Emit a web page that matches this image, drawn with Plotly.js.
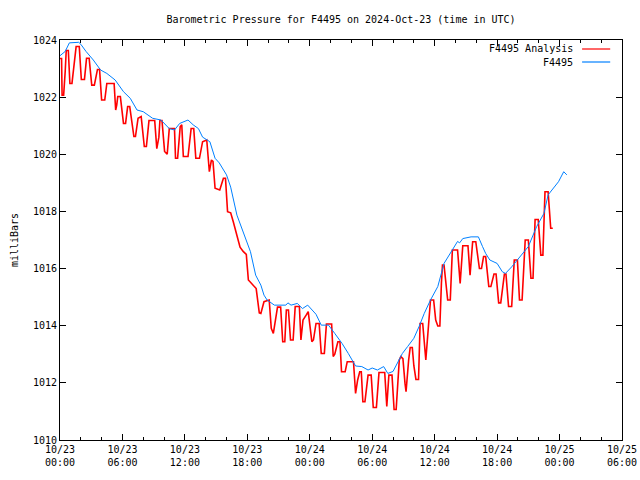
<!DOCTYPE html>
<html>
<head>
<meta charset="utf-8">
<script src="https://cdn.plot.ly/plotly-3.0.1.min.js"></script>
<style>html,body{margin:0;padding:0;background:#fff;}#chart{width:640px;height:480px;}</style>
</head>
<body>
<div id="chart"></div>
<script>
// Hours since 2024-10-23 00:00 UTC and pressure (mb)
const analysisHours = [0,0.15,0.2,0.35,0.5,0.6,0.8,0.95,1.15,1.4,1.55,1.85,2.05,2.35,2.55,2.8,3.05,3.3,3.6,3.8,4.0,4.3,4.5,5.2,5.35,5.45,5.55,5.8,6.1,6.3,6.5,6.7,7.1,7.25,7.5,7.8,8.1,8.3,8.55,9.1,9.3,9.5,9.6,9.8,10.05,10.3,10.5,11.0,11.1,11.3,11.55,11.7,11.85,12.3,12.6,12.85,13.05,13.4,13.7,14.1,14.35,14.55,14.7,14.9,15.35,15.7,15.9,16.1,16.4,16.65,17.0,17.3,17.6,17.9,18.1,18.5,18.85,19.15,19.3,19.6,20.1,20.3,20.5,20.9,21.2,21.4,21.6,21.75,21.95,22.15,22.4,22.6,23.0,23.15,23.35,23.65,23.85,24.2,24.35,24.6,24.9,25.1,25.4,25.6,26.1,26.25,26.4,26.7,26.9,27.05,27.4,27.6,28.2,28.4,28.6,28.8,28.95,29.1,29.3,29.6,29.9,30.1,30.4,30.65,31.2,31.4,31.6,31.9,32.1,32.3,32.6,32.75,32.95,33.15,33.25,33.5,33.65,33.85,34.0,34.2,34.45,34.6,34.85,35.15,35.4,35.6,35.9,36.1,36.3,36.5,36.65,36.75,36.9,37.25,37.5,37.7,38.2,38.45,38.7,39.2,39.4,39.65,39.95,40.3,40.5,40.7,40.9,41.2,41.4,41.7,41.9,42.15,42.35,42.7,42.85,43.1,43.4,43.65,43.95,44.15,44.4,44.7,45.0,45.25,45.45,45.65,45.95,46.2,46.4,46.6,46.9,47.15,47.35];
const analysisMb = [1023.35,1023.35,1022.07,1022.07,1022.9,1023.63,1023.63,1022.48,1022.48,1023.2,1023.77,1023.77,1022.62,1022.62,1023.36,1023.36,1022.42,1022.42,1022.97,1022.97,1021.9,1021.9,1022.48,1022.48,1021.55,1021.72,1022.02,1022.02,1021.08,1021.08,1021.67,1021.67,1020.62,1020.62,1021.26,1021.32,1020.27,1020.27,1021.18,1021.18,1020.2,1020.6,1021.18,1021.18,1020.1,1020.0,1020.9,1020.9,1019.86,1019.86,1020.97,1021.03,1019.92,1019.92,1020.9,1020.9,1019.86,1019.86,1020.44,1020.5,1019.39,1019.8,1019.75,1018.81,1018.75,1019.16,1019.16,1017.99,1017.95,1017.64,1017.11,1016.75,1016.6,1016.5,1015.6,1015.45,1015.3,1014.45,1014.43,1014.84,1014.9,1013.91,1013.73,1014.65,1014.65,1013.44,1013.44,1014.55,1014.55,1013.5,1013.5,1014.67,1014.67,1013.5,1014.2,1014.37,1014.49,1013.44,1013.5,1014.08,1014.08,1013.03,1013.03,1014.06,1014.06,1012.92,1013.0,1013.44,1013.44,1012.39,1012.39,1012.74,1012.74,1011.63,1012.1,1012.39,1012.39,1011.34,1011.34,1012.27,1012.27,1011.14,1011.14,1012.36,1012.36,1011.17,1012.27,1012.27,1011.07,1011.07,1012.8,1012.92,1012.85,1011.98,1011.69,1012.8,1013.24,1013.24,1012.6,1012.12,1012.12,1014.08,1014.08,1012.8,1013.9,1014.9,1014.9,1014.2,1013.99,1013.99,1015.5,1016.12,1016.12,1014.9,1014.9,1016.65,1016.65,1015.48,1016.8,1016.8,1015.77,1016.94,1016.94,1016.0,1016.0,1016.42,1016.42,1015.37,1015.37,1015.81,1015.81,1014.8,1014.8,1015.81,1015.81,1014.67,1014.67,1016.3,1016.3,1014.9,1014.9,1017.0,1017.0,1015.66,1015.66,1017.72,1017.72,1016.47,1016.47,1018.69,1018.69,1017.41,1017.41];

const stationHours = [0,0.5,0.9,1.8,2.0,2.5,3.2,3.9,4.5,5.3,6.1,6.75,7.4,8.0,8.9,9.7,10.5,11.0,11.5,12.3,12.8,13.3,13.7,14.4,14.9,15.3,16.0,16.4,17.0,17.7,18.3,18.8,19.3,19.6,19.9,20.6,21.7,21.9,22.2,22.8,23.3,23.8,24.6,25.1,25.8,26.4,27.1,27.7,28.2,28.4,29.0,29.6,30.0,30.5,31.1,31.5,32.0,32.5,32.9,33.4,34.0,34.5,35.0,35.6,36.3,36.9,37.7,38.2,38.4,38.7,39.5,40.2,40.6,40.9,41.3,42.0,42.5,42.8,43.4,44.2,45.0,45.8,46.5,46.9,47.4,47.9,48.4,48.7];
const stationMb = [1023.45,1023.6,1023.9,1023.92,1023.85,1023.6,1023.3,1022.95,1022.83,1022.6,1022.19,1021.96,1021.55,1021.49,1021.26,1021.2,1020.9,1020.85,1021.08,1021.2,1021.03,1020.9,1020.6,1020.44,1019.86,1019.7,1019.28,1018.85,1017.87,1017.17,1016.59,1015.77,1015.42,1015.07,1014.9,1014.72,1014.72,1014.8,1014.72,1014.78,1014.6,1014.72,1014.4,1014.02,1014.02,1013.73,1013.38,1013.03,1012.74,1012.59,1012.57,1012.45,1012.52,1012.45,1012.57,1012.33,1012.4,1012.74,1013.03,1013.27,1013.56,1013.97,1014.43,1014.9,1015.37,1016.18,1016.65,1016.95,1016.9,1017.05,1017.11,1017.11,1016.77,1016.53,1016.3,1016.18,1015.89,1015.83,1016.06,1016.42,1016.77,1017.47,1017.93,1018.58,1018.81,1019.04,1019.39,1019.28];

const yTicks = [1010,1012,1014,1016,1018,1020,1022,1024];
const seriesNames = ["F4495 Analysis", "F4495"];
const seriesColors = ["#ff0000", "#0080ff"];
const titleText = "Barometric Pressure for F4495 on 2024-Oct-23 (time in UTC)";

const BASE = Date.UTC(2024, 9, 23, 0, 0, 0);
function pad(n){ return (n < 10 ? "0" : "") + n; }
function toDate(h){
  const d = new Date(BASE + Math.round(h * 3600000));
  return d.getUTCFullYear() + "-" + pad(d.getUTCMonth()+1) + "-" + pad(d.getUTCDate()) + " " +
         pad(d.getUTCHours()) + ":" + pad(d.getUTCMinutes()) + ":" + pad(d.getUTCSeconds());
}

const FONT = "DejaVu Sans Mono, Liberation Mono, monospace";

const traces = [
  {x: analysisHours.map(toDate), y: analysisMb, type: "scatter", mode: "lines",
   name: seriesNames[0], line: {color: seriesColors[0], width: 1.6}, showlegend: false},
  {x: stationHours.map(toDate), y: stationMb, type: "scatter", mode: "lines",
   name: seriesNames[1], line: {color: seriesColors[1], width: 1}, showlegend: false}
];

const layout = {
  width: 640, height: 480,
  margin: {l: 60, r: 18, t: 40, b: 40, pad: 0},
  paper_bgcolor: "#ffffff", plot_bgcolor: "#ffffff",
  font: {family: FONT, size: 10, color: "#000"},
  title: {text: titleText, x: 0.5, xref: "paper", xanchor: "center", y: 0.96, yanchor: "middle",
          font: {family: FONT, size: 10, color: "#000"}},
  xaxis: {
    type: "date",
    range: [toDate(0), toDate(54)],
    dtick: 6 * 3600000,
    tick0: toDate(0),
    tickformat: "%m/%d<br>%H:%M",
    ticks: "inside", ticklen: 6, tickcolor: "#000", tickwidth: 1,
    minor: {dtick: 2 * 3600000, ticks: "inside", ticklen: 3, tickcolor: "#000"},
    showline: true, linecolor: "#000", linewidth: 1, mirror: "allticks",
    showgrid: false, zeroline: false,
    tickfont: {family: FONT, size: 10, color: "#000"}
  },
  yaxis: {
    range: [1010, 1024],
    tickvals: yTicks,
    ticktext: yTicks.map(String),
    ticks: "inside", ticklen: 6, tickcolor: "#000", tickwidth: 1,
    showline: true, linecolor: "#000", linewidth: 1, mirror: "allticks",
    showgrid: false, zeroline: false,
    tickfont: {family: FONT, size: 10, color: "#000"},
    title: {text: "milliBars", standoff: 12, font: {family: FONT, size: 10, color: "#000"}}
  },
  shapes: [
    {type: "line", xref: "paper", yref: "paper", x0: 0.929, x1: 0.979, y0: 0.9775, y1: 0.9775,
     line: {color: seriesColors[0], width: 1.2}},
    {type: "line", xref: "paper", yref: "paper", x0: 0.929, x1: 0.979, y0: 0.945, y1: 0.945,
     line: {color: seriesColors[1], width: 1.2}}
  ],
  annotations: [
    {text: seriesNames[0], xref: "paper", yref: "paper", x: 0.917, y: 0.9775, xanchor: "right", yanchor: "middle",
     showarrow: false, font: {family: FONT, size: 10, color: "#000"}},
    {text: seriesNames[1], xref: "paper", yref: "paper", x: 0.917, y: 0.945, xanchor: "right", yanchor: "middle",
     showarrow: false, font: {family: FONT, size: 10, color: "#000"}}
  ]
};

Plotly.newPlot("chart", traces, layout, {displayModeBar: false, staticPlot: true});
</script>
</body>
</html>
